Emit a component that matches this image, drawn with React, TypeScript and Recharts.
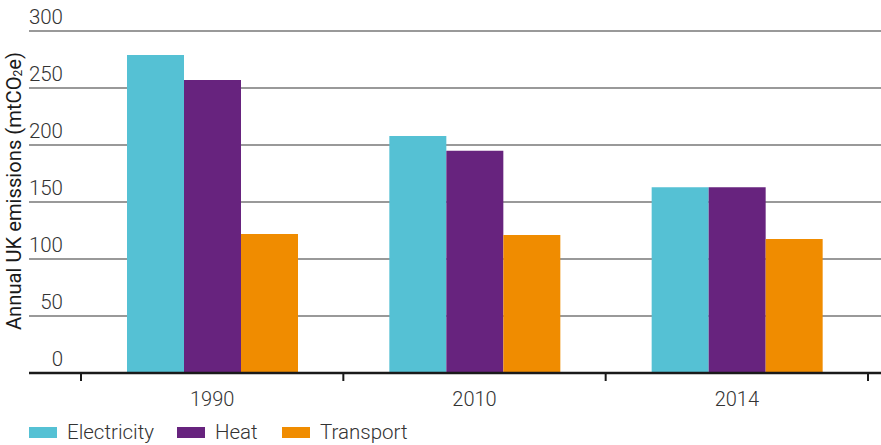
import React from 'react';
import { BarChart, Bar, XAxis, YAxis, CartesianGrid } from 'recharts';

const years = ['1990', '2010', '2014'];
const electricity = [279, 208, 163];
const heat = [257, 195, 163];
const transport = [122, 121, 117.5];
const yTicks = [0, 50, 100, 150, 200, 250, 300];

const seriesNames = ['Electricity', 'Heat', 'Transport'];
const colors = ['#55C1D4', '#67237E', '#F08C00'];

const data = years.map((y, i) => ({
  year: y,
  Electricity: electricity[i],
  Heat: heat[i],
  Transport: transport[i],
}));

const FONT = "Roboto, 'Liberation Sans', Arial, sans-serif";

const XTick = (props: any) => {
  const { x, y, payload, index, visibleTicksCount } = props;
  const off = payload && payload.offset ? payload.offset : 131;
  return (
    <g>
      <line x1={x - off} x2={x - off} y1={y} y2={y + 8} stroke="#1a1a1a" strokeWidth={2} />
      {index === visibleTicksCount - 1 ? (
        <line x1={x + off} x2={x + off} y1={y} y2={y + 8} stroke="#1a1a1a" strokeWidth={2} />
      ) : null}
      <text x={x} y={y + 33} textAnchor="middle" fontSize={20} fontFamily={FONT} fontWeight={300} fill="#333">
        {payload.value}
      </text>
    </g>
  );
};

const YTick = (props: any) => {
  const { x, y, payload } = props;
  return (
    <text x={x + 34} y={y - 7} textAnchor="end" fontSize={20.5} fontFamily={FONT} fontWeight={300} fill="#333">
      {payload.value}
    </text>
  );
};

const YLabel = (props: any) => {
  const cx = 14;
  const cy = 191;
  return (
    <text
      x={cx}
      y={cy}
      transform={`rotate(-90 ${cx} ${cy})`}
      textAnchor="middle"
      dominantBaseline="central"
      fontSize={20.2}
      fontFamily={FONT}
      fontWeight={400}
      fill="#1a1a1a"
    >
      Annual UK emissions (mtCO
      <tspan fontSize={12} dy={4}>2</tspan>
      <tspan dy={-4}>e)</tspan>
    </text>
  );
};

export default function App() {
  return (
    <div style={{ position: 'absolute', left: 0, top: 0, width: 881, height: 445, background: '#fff' }}>
      <BarChart
        width={881}
        height={445}
        data={data}
        margin={{ top: 31, right: 0, left: 0, bottom: 0 }}
        barCategoryGap={46}
        barGap={0}
      >
        <CartesianGrid vertical={false} stroke="#777" strokeWidth={1.3} />
        <XAxis
          dataKey="year"
          height={72}
          padding={{ left: 52, right: 13 }}
          axisLine={{ stroke: '#1a1a1a', strokeWidth: 2.5 }}
          tickLine={false}
          tickSize={0}
          tickMargin={0}
          tick={<XTick />}
          interval={0}
        />
        <YAxis
          width={29}
          domain={[0, 300]}
          ticks={yTicks}
          axisLine={false}
          tickLine={false}
          tickSize={0}
          tickMargin={0}
          tick={<YTick />}
          label={<YLabel />}
        />
        {seriesNames.map((s, i) => (
          <Bar key={s} dataKey={s} fill={colors[i]} isAnimationActive={false} />
        ))}
      </BarChart>
      <div
        style={{
          position: 'absolute',
          left: 29,
          top: 420,
          display: 'flex',
          alignItems: 'center',
          fontFamily: FONT,
          fontWeight: 300,
          fontSize: 20.5,
          color: '#333',
          whiteSpace: 'nowrap',
        }}
      >
        {seriesNames.map((s, i) => (
          <div key={s} style={{ display: 'flex', alignItems: 'center' }}>
            <div style={{ width: 28, height: 11, background: colors[i], marginRight: 10 }} />
            <span style={{ width: [110, 67, 100][i], lineHeight: '24px' }}>{s}</span>
          </div>
        ))}
      </div>
    </div>
  );
}
